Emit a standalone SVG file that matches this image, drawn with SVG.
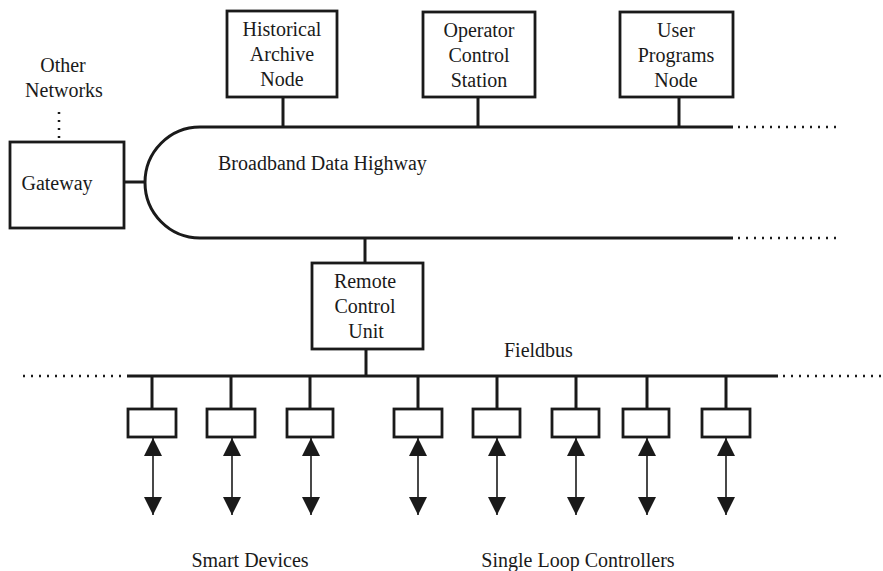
<svg xmlns="http://www.w3.org/2000/svg" width="883" height="571" viewBox="0 0 883 571">
<style>
  .box { fill: #fff; stroke: #1a1a1a; stroke-width: 2.8; }
  .bus { fill: none; stroke: #1a1a1a; stroke-width: 3; }
  .dot { fill: none; stroke: #1a1a1a; stroke-width: 2.5; stroke-dasharray: 2 6; }
  .thin { fill: none; stroke: #1a1a1a; stroke-width: 1.6; }
  .lbl { font-family: "Liberation Serif", "Times New Roman", serif; font-size: 20px; fill: #1a1a1a; text-anchor: middle; }
  .lbl-l { font-family: "Liberation Serif", "Times New Roman", serif; font-size: 20px; fill: #1a1a1a; }
</style>
<defs>
  <marker id="ah" viewBox="0 0 18 18" refX="18" refY="9" markerWidth="18" markerHeight="18" markerUnits="userSpaceOnUse" orient="auto-start-reverse">
    <path d="M0,0 L18,9 L0,18 Z" fill="#1a1a1a"/>
  </marker>
</defs>
<rect width="883" height="571" fill="#fff"/>

<g id="connectors">
  <path class="bus" d="M733,127 H200 A55,55.5 0 0 0 200,238 H733"/>
  <line class="dot" x1="738" y1="127" x2="842" y2="127"/>
  <line class="dot" x1="738" y1="238" x2="842" y2="238"/>
  <line class="bus" x1="283" y1="97" x2="283" y2="127"/>
  <line class="bus" x1="478" y1="97" x2="478" y2="127"/>
  <line class="bus" x1="679" y1="97" x2="679" y2="127"/>
  <line class="bus" x1="124" y1="182" x2="145" y2="182"/>
  <line class="dot" x1="59" y1="112" x2="59" y2="140"/>
  <line class="bus" x1="365" y1="238" x2="365" y2="263"/>
  <line class="bus" x1="366" y1="349" x2="366" y2="376"/>
  <line class="bus" x1="127" y1="376" x2="778" y2="376"/>
  <line class="dot" x1="23" y1="376" x2="124" y2="376"/>
  <line class="dot" x1="783" y1="376" x2="882" y2="376"/>
  <line class="bus" x1="152" y1="376" x2="152" y2="408"/>
  <line class="bus" x1="231" y1="376" x2="231" y2="408"/>
  <line class="bus" x1="310" y1="376" x2="310" y2="408"/>
  <line class="bus" x1="418" y1="376" x2="418" y2="408"/>
  <line class="bus" x1="497" y1="376" x2="497" y2="408"/>
  <line class="bus" x1="576" y1="376" x2="576" y2="408"/>
  <line class="bus" x1="647" y1="376" x2="647" y2="408"/>
  <line class="bus" x1="726" y1="376" x2="726" y2="408"/>
  <line class="thin" x1="153" y1="438" x2="153" y2="515" marker-start="url(#ah)" marker-end="url(#ah)"/>
  <line class="thin" x1="232" y1="438" x2="232" y2="515" marker-start="url(#ah)" marker-end="url(#ah)"/>
  <line class="thin" x1="311" y1="438" x2="311" y2="515" marker-start="url(#ah)" marker-end="url(#ah)"/>
  <line class="thin" x1="418" y1="438" x2="418" y2="515" marker-start="url(#ah)" marker-end="url(#ah)"/>
  <line class="thin" x1="497" y1="438" x2="497" y2="515" marker-start="url(#ah)" marker-end="url(#ah)"/>
  <line class="thin" x1="576" y1="438" x2="576" y2="515" marker-start="url(#ah)" marker-end="url(#ah)"/>
  <line class="thin" x1="647" y1="438" x2="647" y2="515" marker-start="url(#ah)" marker-end="url(#ah)"/>
  <line class="thin" x1="726" y1="438" x2="726" y2="515" marker-start="url(#ah)" marker-end="url(#ah)"/>
</g>

<g id="highway-label">
  <text class="lbl-l" x="218" y="170">Broadband Data Highway</text>
</g>

<g id="historical">
  <rect class="box" x="227" y="11" width="110" height="86"/>
  <text class="lbl" x="282" y="36">Historical</text>
  <text class="lbl" x="282" y="61">Archive</text>
  <text class="lbl" x="282" y="86">Node</text>
</g>

<g id="operator">
  <rect class="box" x="423" y="12" width="112" height="85"/>
  <text class="lbl" x="479" y="37">Operator</text>
  <text class="lbl" x="479" y="62">Control</text>
  <text class="lbl" x="479" y="87">Station</text>
</g>

<g id="user">
  <rect class="box" x="620" y="12" width="113" height="85"/>
  <text class="lbl" x="676" y="37">User</text>
  <text class="lbl" x="676" y="62">Programs</text>
  <text class="lbl" x="676" y="87">Node</text>
</g>

<g id="other-networks">
  <text class="lbl" x="63" y="72">Other</text>
  <text class="lbl" x="64" y="97">Networks</text>
</g>

<g id="gateway">
  <rect class="box" x="10" y="142" width="114" height="86"/>
  <text class="lbl" x="57" y="190">Gateway</text>
</g>

<g id="rcu">
  <rect class="box" x="312" y="263" width="111" height="86"/>
  <text class="lbl" x="365" y="288">Remote</text>
  <text class="lbl" x="365" y="313">Control</text>
  <text class="lbl" x="366" y="338">Unit</text>
</g>

<g id="fieldbus-label">
  <text class="lbl-l" x="504" y="357">Fieldbus</text>
</g>

<g id="dev1"><rect class="box" x="128" y="409" width="48" height="28"/></g>
<g id="dev2"><rect class="box" x="207" y="409" width="48" height="28"/></g>
<g id="dev3"><rect class="box" x="287" y="409" width="46" height="28"/></g>
<g id="dev4"><rect class="box" x="394" y="409" width="48" height="28"/></g>
<g id="dev5"><rect class="box" x="473" y="409" width="47" height="28"/></g>
<g id="dev6"><rect class="box" x="552" y="409" width="47" height="28"/></g>
<g id="dev7"><rect class="box" x="623" y="409" width="46" height="28"/></g>
<g id="dev8"><rect class="box" x="702" y="409" width="48" height="28"/></g>

<g id="smart-devices-label">
  <text class="lbl" x="250" y="567">Smart Devices</text>
</g>
<g id="slc-label">
  <text class="lbl" x="578" y="567">Single Loop Controllers</text>
</g>
</svg>
